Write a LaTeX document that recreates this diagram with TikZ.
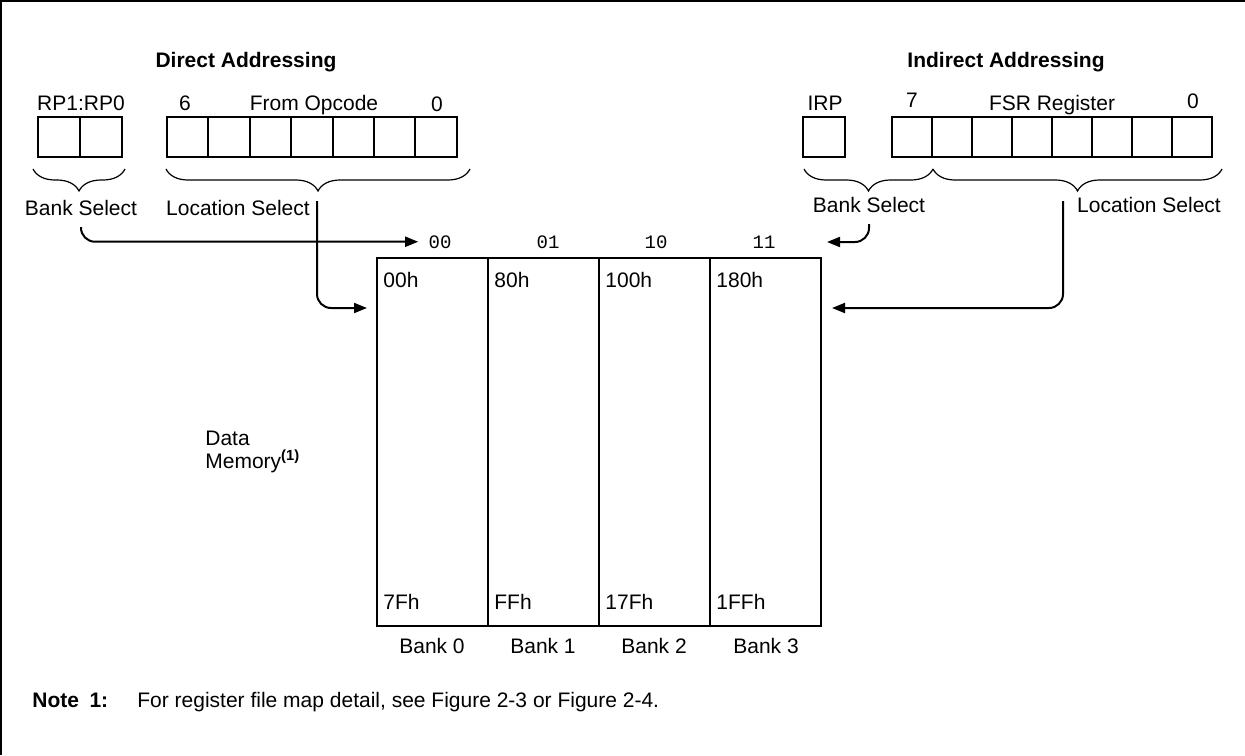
\documentclass[tikz,border=0pt]{standalone}
\usepackage{fontspec}
\setmainfont{Liberation Sans}
\setmonofont{Liberation Mono}
\usetikzlibrary{arrows.meta,decorations.pathreplacing}

\begin{document}
\begin{tikzpicture}[x=0.5pt,y=-0.5pt,every node/.style={inner sep=0pt,font=\fontsize{10.5}{12.6}\selectfont},
	heading/.style={anchor=base,font=\fontsize{10.5}{12.6}\selectfont\bfseries},
	lbl/.style={anchor=base},
	code/.style={anchor=base,font=\fontsize{9.5}{11}\selectfont\ttfamily},
	bit/.style={draw,line width=1pt,minimum width=20.7pt,minimum height=20pt},
	bank/.style={draw,line width=1pt,minimum width=55.5pt,minimum height=184pt},
	brc/.style={decorate,decoration={brace,amplitude=11pt},line width=0.6pt},
	sel/.style={line width=1pt,rounded corners=7pt,-{Triangle[length=6.5pt,width=5pt]}}]
	\useasboundingbox (0,0) rectangle (1245,755);
	\draw[line width=1pt] (1,755) -- (1,1) -- (1245,1);

	\node[heading] (direct) at (246,67) {Direct Addressing};
	\node[heading] (indirect) at (1006,67) {Indirect Addressing};

	\node[lbl] (rp) at (81,110) {RP1:RP0};
	\node[bit] (rp1) at (59,137) {};
	\node[bit] (rp0) at (101,137) {};

	\node[lbl] (op6) at (185,110) {6};
	\node[lbl] (opcode) at (314,110) {From Opcode};
	\node[lbl] (op0) at (437,111) {0};
	\node[bit] (b6) at (187.7,137) {};
	\node[bit] (b5) at (229.1,137) {};
	\node[bit] (b4) at (270.5,137) {};
	\node[bit] (b3) at (311.9,137) {};
	\node[bit] (b2) at (353.3,137) {};
	\node[bit] (b1) at (394.7,137) {};
	\node[bit] (b0) at (436.1,137) {};

	\node[lbl] (irplbl) at (825,110) {IRP};
	\node[bit] (irp) at (824,137) {};

	\node[lbl] (fsr7) at (912,107) {7};
	\node[lbl] (fsr) at (1052,110) {FSR Register};
	\node[lbl] (fsr0) at (1193,108) {0};
	\node[bit,minimum width=20pt] (f7) at (912,137) {};
	\node[bit,minimum width=20pt] (f6) at (952,137) {};
	\node[bit,minimum width=20pt] (f5) at (992,137) {};
	\node[bit,minimum width=20pt] (f4) at (1032,137) {};
	\node[bit,minimum width=20pt] (f3) at (1072,137) {};
	\node[bit,minimum width=20pt] (f2) at (1112,137) {};
	\node[bit,minimum width=20pt] (f1) at (1152,137) {};
	\node[bit,minimum width=20pt] (f0) at (1192,137) {};

	\draw[brc] (125,169) -- (33,169);
	\draw[brc] (470,169) -- (166,169);
	\draw[brc] (933,169) -- (804,169);
	\draw[brc] (1222,169) -- (933,169);

	\node[lbl] (bsd) at (81,215) {Bank Select};
	\node[lbl] (lsd) at (238,215) {Location Select};
	\node[lbl] (bsi) at (869,212) {Bank Select};
	\node[lbl] (lsi) at (1149,212) {Location Select};

	\node[code] (c00) at (440,248) {00};
	\node[code] (c01) at (548,248) {01};
	\node[code] (c10) at (656,248) {10};
	\node[code] (c11) at (764,248) {11};

	\node[bank] (bank0) at (432.5,442) {};
	\node[bank] (bank1) at (543.5,442) {};
	\node[bank] (bank2) at (654.5,442) {};
	\node[bank] (bank3) at (765.5,442) {};

	\node[lbl,anchor=base west] (top0) at (383,287) {00h};
	\node[lbl,anchor=base west] (top1) at (494,287) {80h};
	\node[lbl,anchor=base west] (top2) at (605,287) {100h};
	\node[lbl,anchor=base west] (top3) at (716,287) {180h};
	\node[lbl,anchor=base west] (end0) at (383,609) {7Fh};
	\node[lbl,anchor=base west] (end1) at (494,609) {FFh};
	\node[lbl,anchor=base west] (end2) at (605,609) {17Fh};
	\node[lbl,anchor=base west] (end3) at (716,609) {1FFh};

	\node[lbl] (name0) at (432,653) {Bank 0};
	\node[lbl] (name1) at (543,653) {Bank 1};
	\node[lbl] (name2) at (654,653) {Bank 2};
	\node[lbl] (name3) at (766,653) {Bank 3};

	\node[lbl,anchor=base west] (data) at (205,445) {Data};
	\node[lbl,anchor=base west] (memory) at (205,468) {Memory\textsuperscript{\bfseries(1)}};

	\coordinate (lsdtop) at (317,201);
	\coordinate (lsdend) at (367,308);
	\coordinate (bsiend) at (827,242);
	\coordinate (lsitop) at (1063,201);
	\coordinate (lsiend) at (832,308);

	\draw[sel] ([yshift=-6pt]bsd.base) |- ([xshift=-5pt]c00.west);
	\draw[sel] (lsdtop) |- (lsdend);
	\draw[sel] ([yshift=-6pt]bsi.base) |- (bsiend);
	\draw[sel] (lsitop) |- (lsiend);

	\node[heading,anchor=base west] (note) at (32,707) {Note\enspace 1:};
	\node[lbl,anchor=base west] (notetext) at (137,707) {For register file map detail, see Figure 2-3 or Figure 2-4.};
\end{tikzpicture}
\end{document}
